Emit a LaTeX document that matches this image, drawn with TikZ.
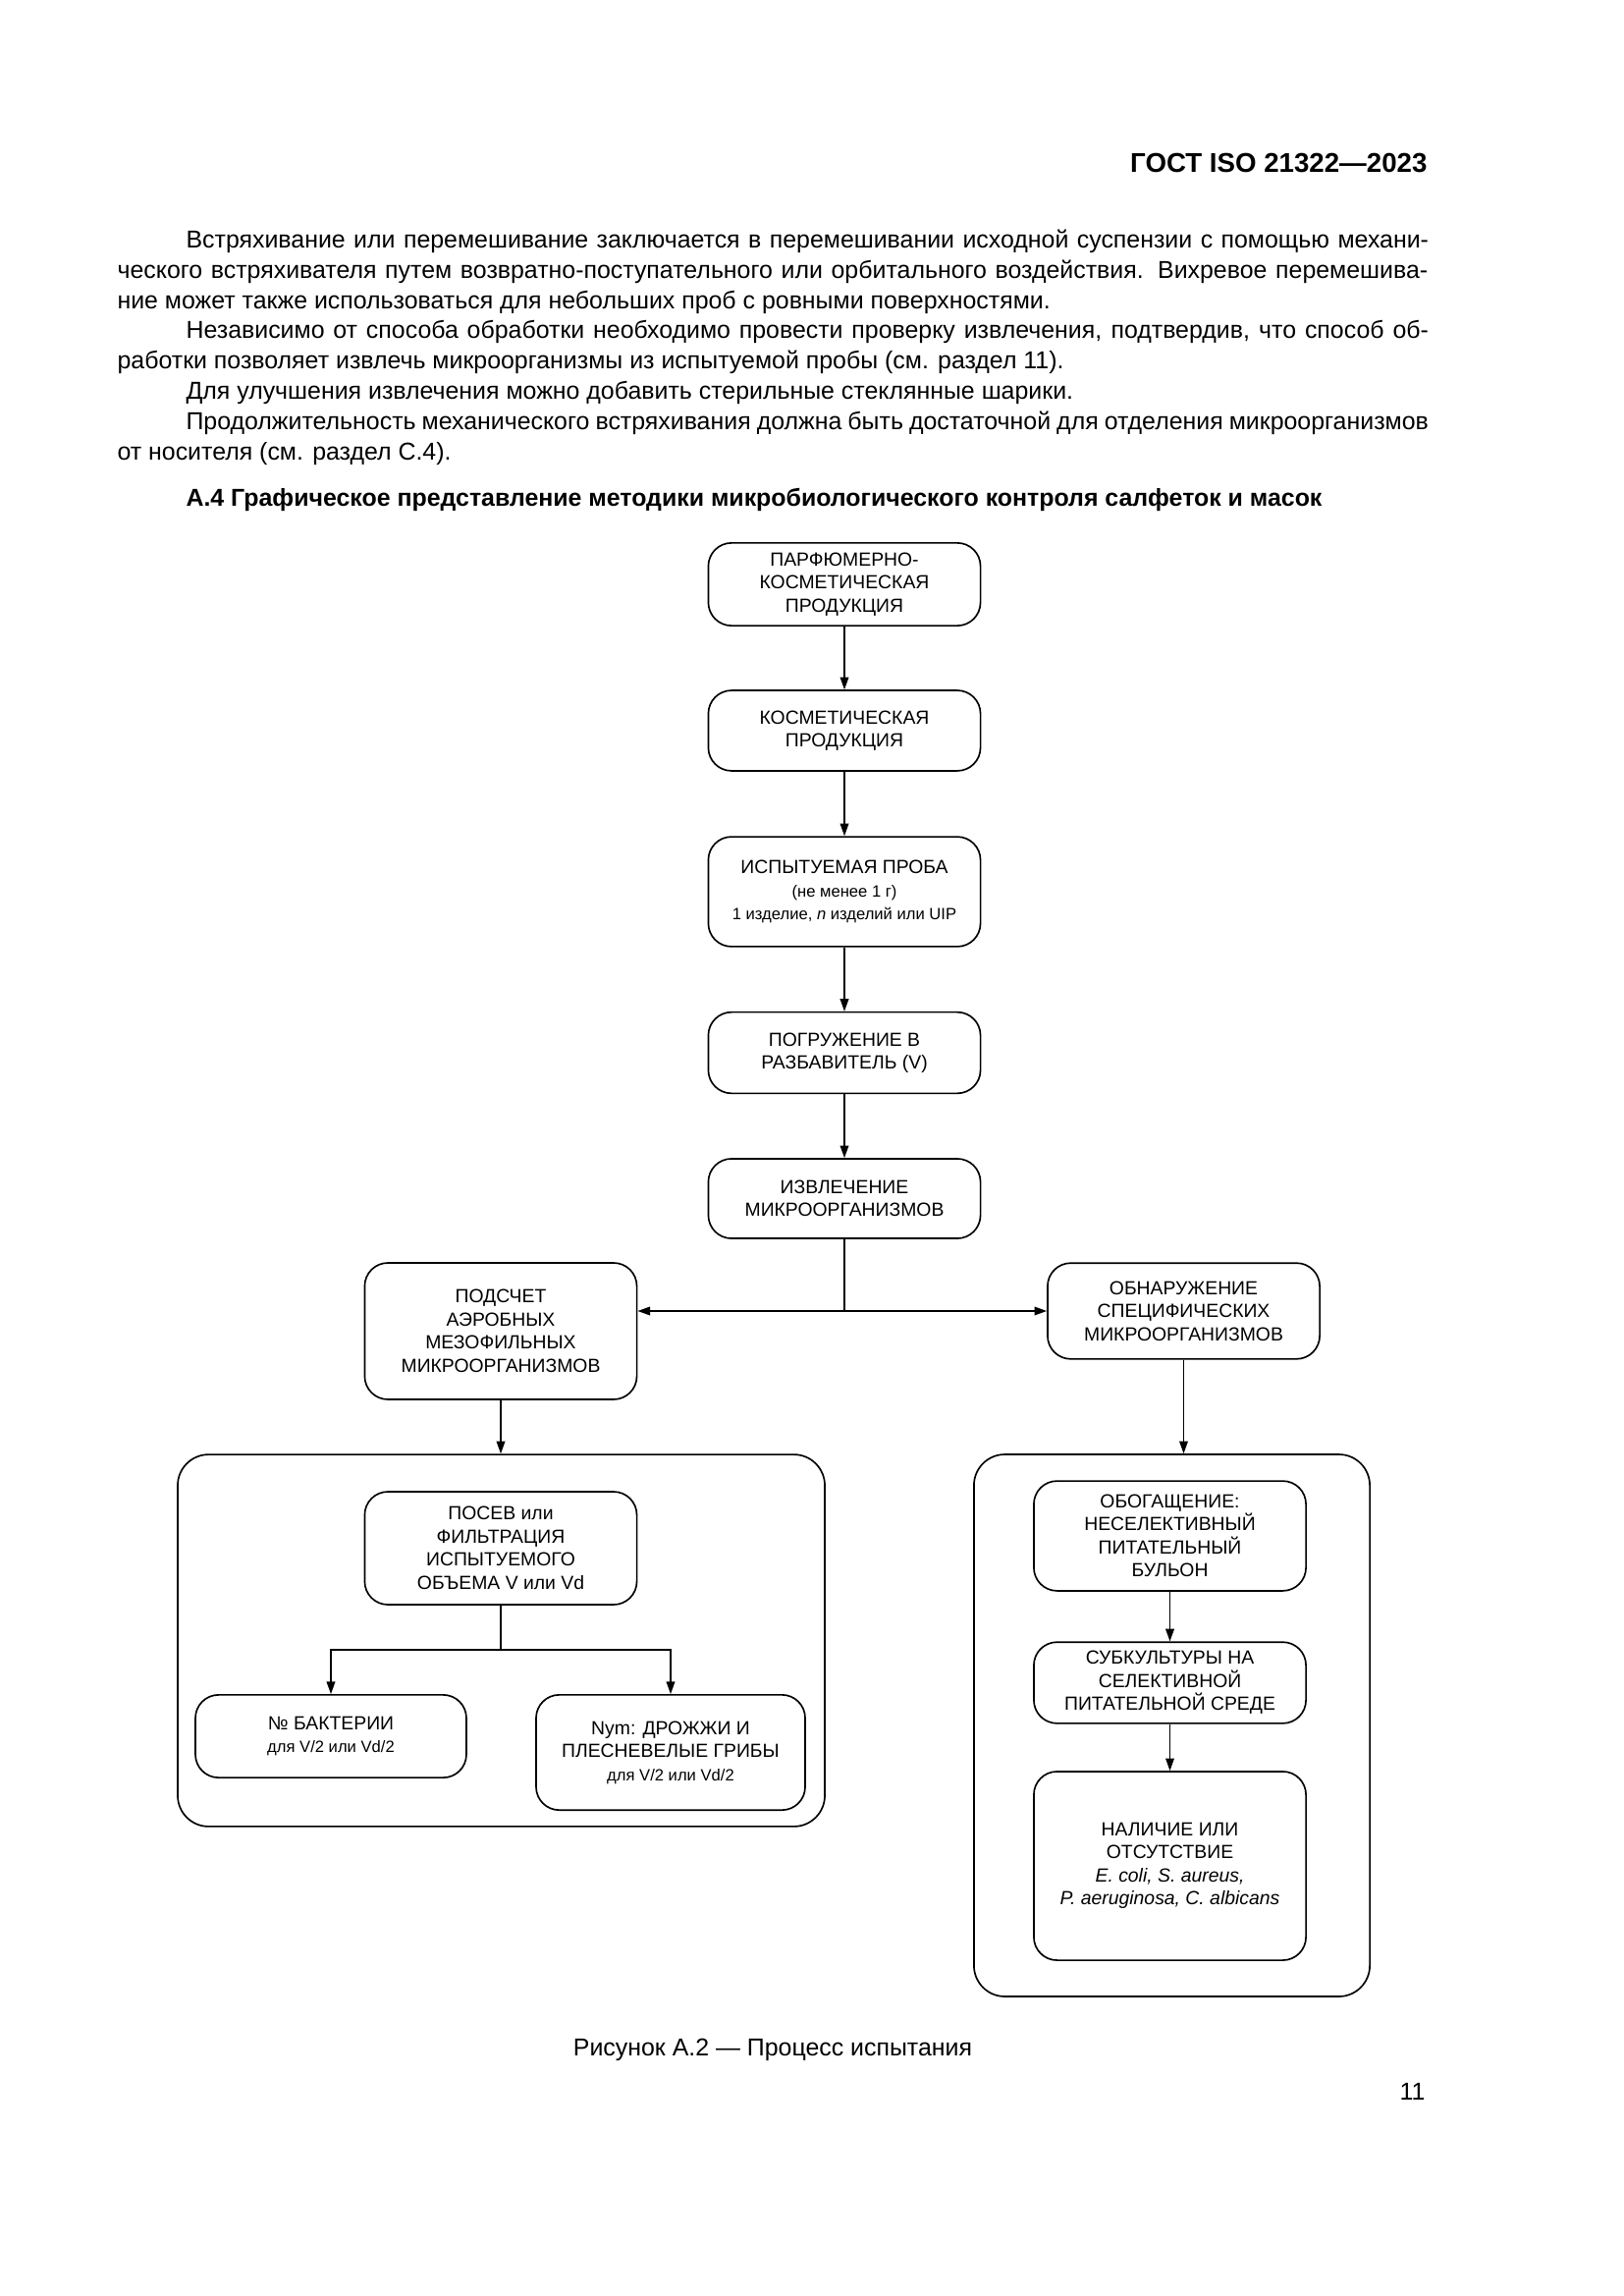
\documentclass[tikz,border=0pt]{standalone}
\usepackage{fontspec}
\setmainfont{Liberation Sans}
\usetikzlibrary{arrows.meta, positioning, calc}

\newcommand{\fullline}[1]{\makebox[169.5mm][s]{#1}}
\newcommand{\indline}[1]{\makebox[160.7mm][s]{#1}}
\newcommand{\smalltext}{\fontsize{6}{7.5}\selectfont}

\begin{document}
\begin{tikzpicture}[
        x=0.127mm, y=-0.127mm,
        every node/.style={inner sep=0pt, font=\fontsize{9}{11}\selectfont},
        stage/.style={draw, rounded corners=3mm, line width=0.6pt, minimum width=35.2mm, align=center, font=\fontsize{7}{8.5}\selectfont},
        panel/.style={draw, rounded corners=4mm, line width=0.6pt},
        flow/.style={-{Triangle[length=1.6mm, width=1.1mm]}, line width=0.5pt}
    ]
        \fill[white] (0, 0) rectangle (1653, 2338);
        \useasboundingbox (0, 0) rectangle (1653, 2338);

        % Page header
        \node[anchor=base east, font=\fontsize{10}{12}\selectfont\bfseries] (gost) at (1454, 176) {ГОСТ ISO 21322—2023};

        % Text before the figure
        \node[anchor=base west] (line1) at (189, 252.5) {\indline{Встряхивание или перемешивание заключается в перемешивании исходной суспензии с помощью механи-}};
        \node[anchor=base west] (line2) at (119, 283.3) {\fullline{ческого встряхивателя путем возвратно-поступательного или орбитального воздействия. Вихревое перемешива-}};
        \node[anchor=base west] (line3) at (119, 314.1) {ние может также использоваться для небольших проб с ровными поверхностями.};
        \node[anchor=base west] (line4) at (189, 344.9) {\indline{Независимо от способа обработки необходимо провести проверку извлечения, подтвердив, что способ об-}};
        \node[anchor=base west] (line5) at (119, 375.7) {работки позволяет извлечь микроорганизмы из испытуемой пробы (см. раздел 11).};
        \node[anchor=base west] (line6) at (189, 406.5) {Для улучшения извлечения можно добавить стерильные стеклянные шарики.};
        \node[anchor=base west] (line7) at (189, 437.3) {\indline{Продолжительность механического встряхивания должна быть достаточной для отделения микроорганизмов}};
        \node[anchor=base west] (line8) at (119, 468.1) {от носителя (см. раздел С.4).};

        % Heading
        \node[anchor=base west, font=\fontsize{9}{11}\selectfont\bfseries] (heading) at (189, 516) {А.4 Графическое представление методики микробиологического контроля салфеток и масок};

        % Main column
        \node[stage, minimum height=10.7mm] (product) at (860, 595) {ПАРФЮМЕРНО-\\КОСМЕТИЧЕСКАЯ\\ПРОДУКЦИЯ};
        \node[stage, minimum height=10.4mm] (cosmetic) at (860, 744) {КОСМЕТИЧЕСКАЯ\\ПРОДУКЦИЯ};
        \node[stage, minimum height=14.2mm] (sample) at (860, 908) {ИСПЫТУЕМАЯ ПРОБА\\{\smalltext (не менее 1 г)}\\{\smalltext 1 изделие, \textit{n} изделий или UIP}};
        \node[stage, minimum height=10.5mm] (dilution) at (860, 1072) {ПОГРУЖЕНИЕ В\\РАЗБАВИТЕЛЬ (V)};
        \node[stage, minimum height=10.3mm] (extraction) at (860, 1220.5) {ИЗВЛЕЧЕНИЕ\\МИКРООРГАНИЗМОВ};

        % Two branches
        \node[stage, minimum height=17.65mm] (count) at (510, 1355.5) {ПОДСЧЕТ\\АЭРОБНЫХ\\МЕЗОФИЛЬНЫХ\\МИКРООРГАНИЗМОВ};
        \node[stage, minimum height=12.4mm] (detect) at (1205.5, 1335) {ОБНАРУЖЕНИЕ\\СПЕЦИФИЧЕСКИХ\\МИКРООРГАНИЗМОВ};

        % Panels
        \node[panel, minimum width=83.7mm, minimum height=48.1mm] (countpanel) at (510.5, 1670.5) {};
        \node[panel, minimum width=51.2mm, minimum height=70.1mm] (detectpanel) at (1193.5, 1757) {};

        % Counting panel
        \node[stage, minimum height=14.6mm] (inoculation) at (510, 1576.5) {ПОСЕВ или\\ФИЛЬТРАЦИЯ\\ИСПЫТУЕМОГО\\ОБЪЕМА V или Vd};
        \node[stage, minimum width=35.05mm, minimum height=10.7mm] (bacteria) at (337, 1768) {№ БАКТЕРИИ\\{\smalltext для V/2 или Vd/2}};
        \node[stage, minimum width=34.8mm, minimum height=14.9mm] (yeast) at (683, 1784.5) {Nym: ДРОЖЖИ И\\ПЛЕСНЕВЕЛЫЕ ГРИБЫ\\{\smalltext для V/2 или Vd/2}};

        % Detection panel
        \node[stage, minimum height=14.2mm] (enrichment) at (1191.5, 1564) {ОБОГАЩЕНИЕ:\\НЕСЕЛЕКТИВНЫЙ\\ПИТАТЕЛЬНЫЙ\\БУЛЬОН};
        \node[stage, minimum height=10.5mm] (subculture) at (1191.5, 1713.5) {СУБКУЛЬТУРЫ НА\\СЕЛЕКТИВНОЙ\\ПИТАТЕЛЬНОЙ СРЕДЕ};
        \node[stage, minimum height=24.4mm] (presence) at (1191.5, 1900) {НАЛИЧИЕ ИЛИ\\ОТСУТСТВИЕ\\\textit{E. coli, S. aureus,}\\\textit{P. aeruginosa, C. albicans}};

        % Arrows
        \draw[flow] (product) -- (cosmetic);
        \draw[flow] (cosmetic) -- (sample);
        \draw[flow] (sample) -- (dilution);
        \draw[flow] (dilution) -- (extraction);
        \coordinate (fork) at (extraction.south |- detect.west);
        \draw[line width=0.5pt] (extraction) -- (fork);
        \draw[flow] (fork) -- (fork -| count.east);
        \draw[flow] (fork) -- (detect.west);
        \draw[flow] (count) -- (count |- countpanel.north);
        \draw[flow] (detect) -- (detect |- detectpanel.north);
        \coordinate (split) at (510, 1680);
        \draw[line width=0.5pt] (inoculation) -- (split);
        \draw[flow] (split) -| (bacteria);
        \draw[flow] (split) -| (yeast);
        \draw[flow] (enrichment) -- (subculture);
        \draw[flow] (subculture) -- (presence);

        % Caption and page number
        \node[anchor=base] (caption) at (787, 2093) {Рисунок А.2 — Процесс испытания};
        \node[anchor=base east] (page) at (1452, 2138) {11};
    \end{tikzpicture}
\end{document}
